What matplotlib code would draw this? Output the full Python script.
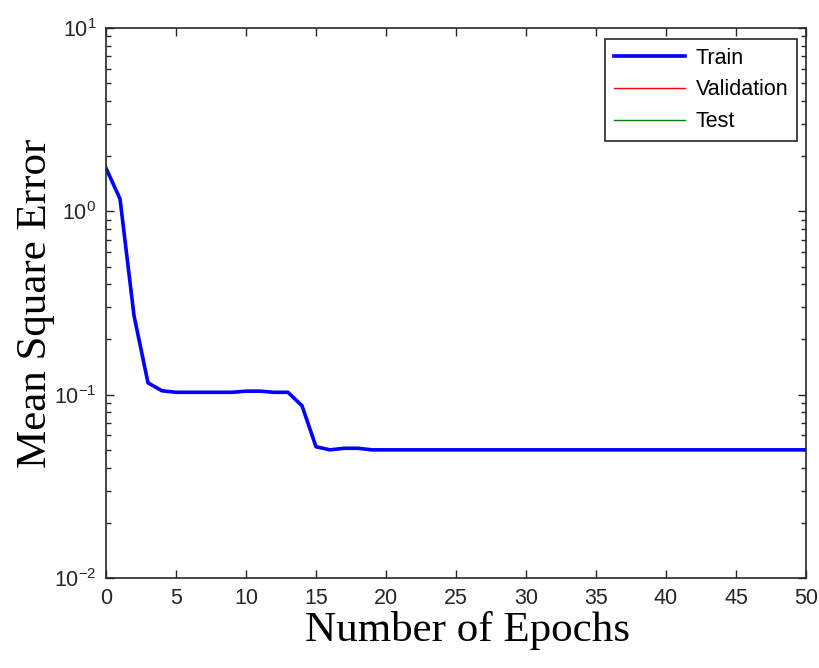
import matplotlib

matplotlib.use("Agg")

import matplotlib.pyplot as plt
from matplotlib.ticker import FixedLocator, LogLocator, NullFormatter

# training performance
epochs = list(range(0, 51))
train_mse = [
    1.72, 1.17, 0.27, 0.116, 0.105, 0.103, 0.103, 0.103, 0.103, 0.103,
    0.1045, 0.1045, 0.103, 0.103, 0.087, 0.052, 0.050, 0.051, 0.051, 0.050,
] + [0.050] * 31

x_ticks = list(range(0, 51, 5))
y_ticks = [1e-2, 1e-1, 1e0, 1e1]
y_tick_labels = [r"$\mathregular{10^{-2}}$", r"$\mathregular{10^{-1}}$",
                 r"$\mathregular{10^{0}}$", r"$\mathregular{10^{1}}$"]

plt.rcParams.update({
    "font.family": ["Liberation Sans", "DejaVu Sans"],
    "font.size": 15.5,
})

fig = plt.figure(figsize=(8.19, 6.68), dpi=100)
ax = fig.add_axes([106 / 819, 90 / 668, 700 / 819, 550 / 668])

ax.plot(epochs, train_mse, color="#0000ff", linewidth=2.6, label="Train")
ax.plot([], [], color="#ff0000", linewidth=1.0, label="Validation")
ax.plot([], [], color="#008000", linewidth=1.0, label="Test")

ax.set_yscale("log")
ax.set_xlim(0, 50)
ax.set_ylim(1e-2, 1e1)

ax.xaxis.set_major_locator(FixedLocator(x_ticks))
ax.yaxis.set_major_locator(FixedLocator(y_ticks))
ax.set_yticklabels(y_tick_labels)
ax.yaxis.set_minor_locator(LogLocator(base=10, subs=range(2, 10)))
ax.yaxis.set_minor_formatter(NullFormatter())

ax.tick_params(which="both", direction="in", top=True, right=True,
               colors="#262626", labelcolor="#262626")
ax.tick_params(which="major", length=6, width=1.0, labelsize=15.5, pad=7)
ax.tick_params(which="minor", length=3.5, width=1.0)
for spine in ax.spines.values():
    spine.set_linewidth(1.2)
    spine.set_color("#262626")

ax.set_xlabel("Number of Epochs", family="Liberation Serif", fontsize=31, va="center")
ax.set_ylabel("Mean Square Error", family="Liberation Serif", fontsize=31, va="center")
ax.xaxis.set_label_coords(0.516, -0.095)
ax.yaxis.set_label_coords(-0.1, 0.5)

leg = ax.legend(loc="upper right", bbox_to_anchor=(0.987, 0.98), borderaxespad=0,
                fancybox=False, framealpha=1, edgecolor="#262626",
                handlelength=3.3, labelspacing=0.5, fontsize=15.5,
                borderpad=0.4, handletextpad=0.5)
leg.get_frame().set_linewidth(1.2)

fig.savefig("out.png", dpi=100)
